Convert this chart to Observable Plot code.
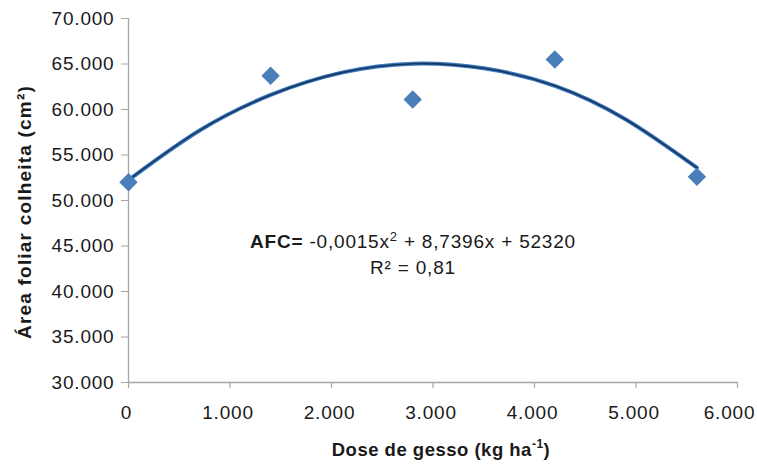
<!DOCTYPE html>
<html>
<head>
<meta charset="utf-8">
<script src="https://cdn.jsdelivr.net/npm/d3@7"></script>
<script src="https://cdn.jsdelivr.net/npm/@observablehq/plot@0.6"></script>
<style>
  html, body { margin: 0; padding: 0; background: #fff; }
  svg { display: block; }
  #chart svg text { letter-spacing: 0.8px; }
</style>
</head>
<body>
<div id="chart"></div>
<script>
// Observed data points (dose in kg/ha, leaf area in cm²)
const doses = [0, 1400, 2800, 4200, 5600];
const areas = [52000, 63700, 61100, 65500, 52600];

// Polynomial trend line
const trendX = [0, 700, 1400, 2100, 2800, 3500, 4200, 4900, 5600];
const trendY = [52250, 57700, 61600, 64050, 65030, 64530, 62600, 58900, 53600];

const xTicks = [0, 1000, 2000, 3000, 4000, 5000, 6000];
const yTicks = [30000, 35000, 40000, 45000, 50000, 55000, 60000, 65000, 70000];

const points = doses.map((d, i) => ({x: d, y: areas[i]}));
const trend = trendX.map((d, i) => ({x: d, y: trendY[i]}));

const fmt = d => d === 0 ? "0" : d3.format(",")(d).replace(/,/g, ".");
const font = "Liberation Sans, Arial, sans-serif";
const ink = "#1a1a1a";
const grey = "#a6a6a6";

const plot = Plot.plot({
  width: 757,
  height: 465,
  marginLeft: 128,
  marginRight: 20,
  marginTop: 18,
  marginBottom: 83,
  style: {fontFamily: font, fontSize: "19px", color: ink, background: "#fff"},
  x: {domain: [0, 6000]},
  y: {domain: [30000, 70000]},
  marks: [
    Plot.ruleX([0], {stroke: grey, strokeWidth: 1.3}),
    Plot.ruleY([30000], {stroke: grey, strokeWidth: 1.3}),
    // x tick marks
    Plot.ruleX(xTicks, {x: d => d, y1: 30000, y2: 30000, insetBottom: -6, stroke: grey, strokeWidth: 1.2}),
    // x tick labels (last one nudged inwards so it stays inside the frame)
    Plot.axisX({ticks: xTicks.slice(0, -1), tickFormat: fmt, tickSize: 0, tickPadding: 23, dx: -2, fill: ink, label: null, fontSize: 19}),
    Plot.axisX({ticks: xTicks.slice(-1), tickFormat: fmt, tickSize: 0, tickPadding: 23, dx: -8, fill: ink, label: null, fontSize: 19}),
    Plot.axisY({ticks: yTicks, tickFormat: fmt, tickSize: 7, tickPadding: 7, stroke: grey, fill: ink, label: null, fontSize: 19}),
    Plot.line(trend, {x: "x", y: "y", curve: "natural", stroke: "#3b78c0", strokeWidth: 4}),
    Plot.line(trend, {x: "x", y: "y", curve: "natural", stroke: "#17375e", strokeWidth: 1.6}),
    Plot.dot(points, {x: "x", y: "y", symbol: "diamond2", r: 8.3, fill: "#4a7ebb", stroke: "#4a7ebb", strokeWidth: 0})
  ]
});

const svg = d3.select(plot);

// Equation annotation
const eq = svg.append("text")
  .attr("x", 250).attr("y", 248).attr("text-anchor", "start")
  .attr("font-family", font).attr("font-size", 19).attr("fill", ink);
eq.append("tspan").attr("font-weight", "bold").text("AFC=");
eq.append("tspan").text(" -0,0015x");
eq.append("tspan").attr("font-size", 13).attr("dy", -7).text("2");
eq.append("tspan").attr("dy", 7).text(" + 8,7396x + 52320");

svg.append("text")
  .attr("x", 413).attr("y", 274).attr("text-anchor", "middle")
  .attr("font-family", font).attr("font-size", 19).attr("fill", ink)
  .text("R² = 0,81");

// Axis titles
const xl = svg.append("text")
  .attr("x", 441).attr("y", 456).attr("text-anchor", "middle")
  .attr("font-family", font).attr("font-size", 18.5).attr("font-weight", "bold").attr("fill", ink)
  .style("letter-spacing", "0.5px");
xl.append("tspan").text("Dose de gesso (kg ha");
xl.append("tspan").attr("font-size", 12).attr("dy", -8).text("-1");
xl.append("tspan").attr("dy", 8).text(")");

svg.append("text")
  .attr("transform", "translate(31,212) rotate(-90)").attr("text-anchor", "middle")
  .attr("font-family", font).attr("font-size", 19).attr("font-weight", "bold").attr("fill", ink)
  .style("letter-spacing", "1.2px")
  .text("Área foliar colheita (cm²)");

document.getElementById("chart").appendChild(plot);
</script>
</body>
</html>
